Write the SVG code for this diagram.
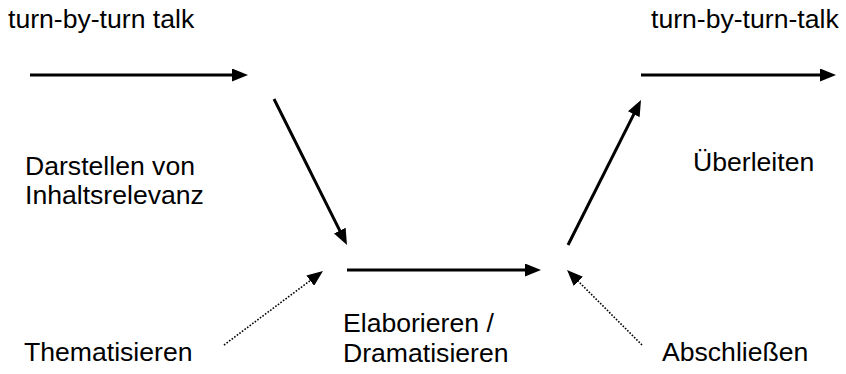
<svg xmlns="http://www.w3.org/2000/svg" width="846" height="374" viewBox="0 0 846 374">
<style>
text{font-family:"Liberation Sans",Arial,sans-serif;font-size:26.6px;fill:#000}
.solid{stroke:#000;stroke-width:3;fill:none;marker-end:url(#ah)}
.dot{stroke:#000;stroke-width:1.6;stroke-dasharray:1.6 1.6;fill:none;marker-end:url(#ah)}
</style>
<defs>
<marker id="ah" markerUnits="userSpaceOnUse" markerWidth="16" markerHeight="13" refX="8" refY="6.5" orient="auto" viewBox="0 0 16 13">
<path d="M0,0 L16,6.5 L0,13 z" fill="#000"/>
</marker>
</defs>
<g id="connectors">
<line class="solid" x1="30" y1="75" x2="240" y2="75"/>
<line class="solid" x1="274" y1="99" x2="343.4" y2="237.8"/>
<line class="solid" x1="347" y1="270" x2="533" y2="270"/>
<line class="solid" x1="568" y1="245" x2="637.4" y2="107.1"/>
<line class="solid" x1="641" y1="75" x2="828" y2="75"/>
<line class="dot" x1="224" y1="345" x2="316.6" y2="275.8"/>
<line class="dot" x1="642" y1="345" x2="572.7" y2="275.7"/>
</g>
<g id="turn1"><text x="8" y="28">turn-by-turn talk</text></g>
<g id="turn2"><text x="651" y="28">turn-by-turn-talk</text></g>
<g id="darstellen"><text x="25" y="175">Darstellen von</text><text x="25" y="204">Inhaltsrelevanz</text></g>
<g id="ueberleiten"><text x="693" y="171">Überleiten</text></g>
<g id="elaborieren"><text x="343" y="332">Elaborieren /</text><text x="343" y="362">Dramatisieren</text></g>
<g id="thematisieren"><text x="24" y="361">Thematisieren</text></g>
<g id="abschliessen"><text x="662" y="361">Abschließen</text></g>
</svg>
